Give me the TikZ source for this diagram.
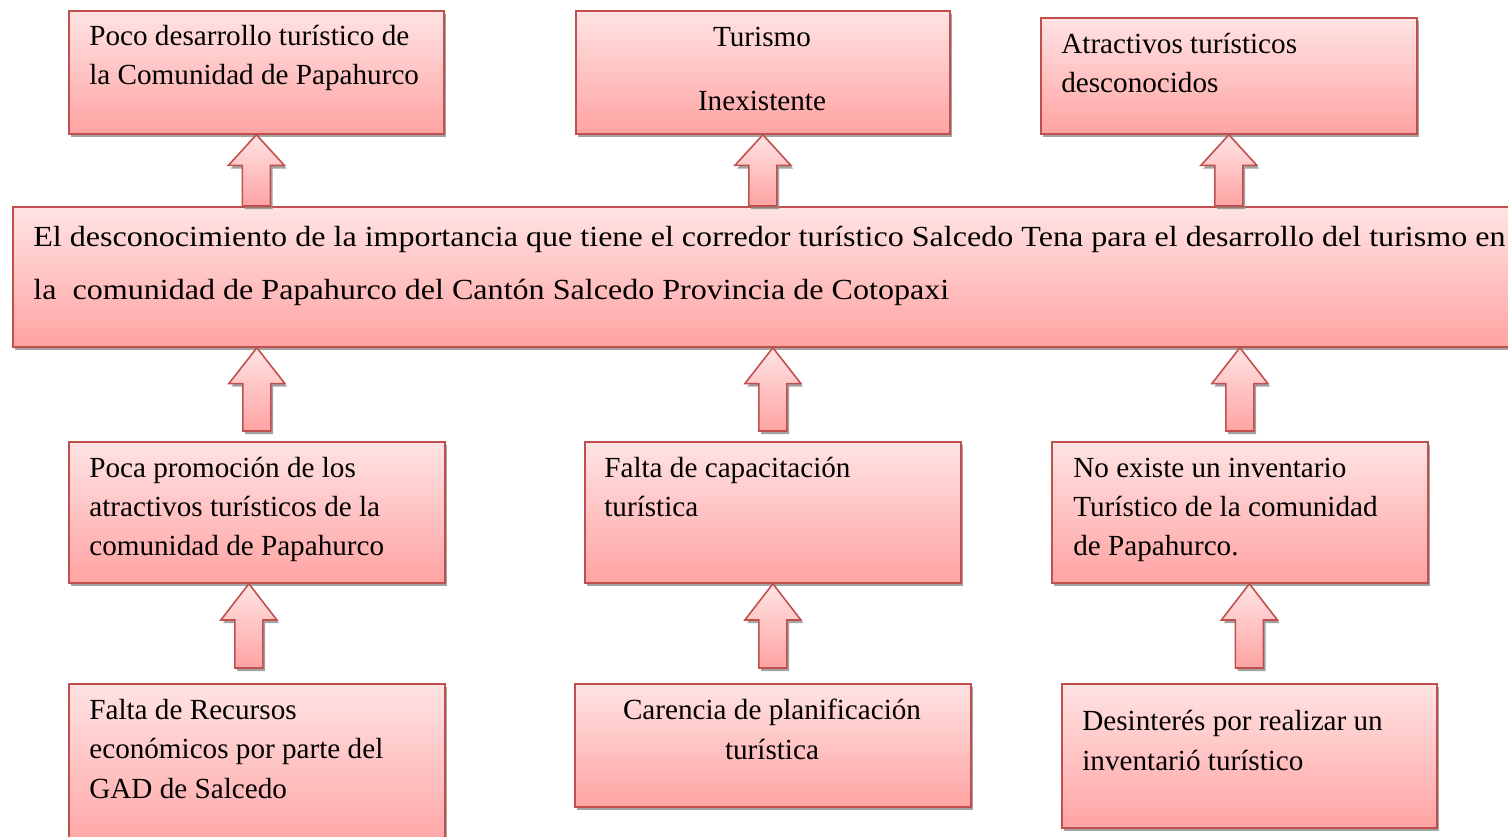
\documentclass[tikz,border=0pt]{standalone}
\usepackage{fontspec}
\setmainfont{Liberation Serif}
\newfontfamily\anchafont[FakeStretch=1.1]{Liberation Serif}
\usetikzlibrary{calc,shadows}

\definecolor{rosaclaro}{HTML}{FFE3E3}
\definecolor{rosaoscuro}{HTML}{FFA3A3}
\definecolor{borde}{HTML}{C0504D}

\tikzset{
  sombra/.style={drop shadow={shadow xshift=1.3pt, shadow yshift=-1.8pt, fill=black!45, opacity=0.8}},
  caja/.style={draw=borde, line width=1pt, rectangle, inner sep=0pt,
    top color=rosaclaro, bottom color=rosaoscuro, sombra},
  texto/.style={inner sep=0pt, align=left, anchor=base west,
    font=\fontsize{16.6}{22.4}\selectfont},
  flechaup/.style={draw=borde, line width=0.9pt, line join=miter,
    top color=rosaclaro, bottom color=rosaoscuro, sombra}
}

% box: name, left, top, right, bottom (in px)
\newcommand{\caja}[5]{\node[caja, anchor=north west,
  minimum width={(#4-#2)*0.02cm}, minimum height={(#5-#3)*0.02cm}] (#1) at (#2,#3) {};}
% block arrow: from (#1) up to the tip (#2)
\newcommand{\flecha}[2]{\path[flechaup] let \p1=(#1), \p2=(#2), \n1={0.43*(\y2-\y1)} in
  (\x1-0.28cm,\y1) -- (\x1-0.28cm,\y2-\n1) -- (\x1-0.56cm,\y2-\n1) -- (\x1,\y2)
  -- (\x1+0.56cm,\y2-\n1) -- (\x1+0.28cm,\y2-\n1) -- (\x1+0.28cm,\y1) -- cycle;}

\begin{document}
\begin{tikzpicture}[x=0.02cm, y=-0.02cm]
\useasboundingbox (0,0) rectangle (1508,837);

% Effects
\caja{t1}{68}{10}{443}{133}
\caja{t2}{575}{10}{949}{133}
\caja{t3}{1040}{17}{1416}{133}

% Problem
\caja{main}{12}{206}{1530}{346}

% Causes
\caja{b1}{68}{441}{444}{582}
\caja{b2}{584}{441}{960}{582}
\caja{b3}{1051}{441}{1427}{582}
\caja{c1}{68}{683}{444}{850}
\caja{c2}{574}{683}{970}{806}
\caja{c3}{1061}{683}{1436}{827}

% Arrows
\flecha{main.north -| t1.south}{t1.south}
\flecha{main.north -| t2.south}{t2.south}
\flecha{main.north -| t3.south}{t3.south}
\flecha{$(b1.north)+(0,-10)$}{main.south -| b1.north}
\flecha{$(b2.north)+(0,-10)$}{main.south -| b2.north}
\flecha{$(b3.north)+(0,-10)$}{main.south -| b3.north}
\flecha{$(c1.north)+(-8,-15)$}{b1.south -| {$(c1.north)+(-8,0)$}}
\flecha{$(c2.north)+(0,-15)$}{b2.south -| c2.north}
\flecha{$(c3.north)+(0,-15)$}{b3.south -| c3.north}

% Texts (anchored at the baseline of the last line)
\node[texto] (lt1) at (89,85) {Poco desarrollo turístico de\\la Comunidad de Papahurco};
\node[texto, align=center, anchor=base, font=\fontsize{16.6}{36.8}\selectfont] (lt2) at (762,111) {Turismo\\Inexistente};
\node[texto] (lt3) at (1061,93) {Atractivos turísticos\\desconocidos};
\node[texto, font=\anchafont\fontsize{16.6}{30.6}\selectfont] (lmain) at (33,300)
  {El desconocimiento de la importancia que tiene el corredor turístico Salcedo Tena para el desarrollo del turismo en\\la~ comunidad de Papahurco del Cantón Salcedo Provincia de Cotopaxi};
\node[texto] (lb1) at (89,556) {Poca promoción de los\\atractivos turísticos de la\\comunidad de Papahurco};
\node[texto] (lb2) at (604,517) {Falta de capacitación\\turística};
\node[texto] (lb3) at (1073,556) {No existe un inventario\\Turístico de la comunidad\\de Papahurco.};
\node[texto] (lc1) at (89,798) {Falta de Recursos\\económicos por parte del\\GAD de Salcedo};
\node[texto, align=center, anchor=base] (lc2) at (772,759) {Carencia de planificación\\turística};
\node[texto] (lc3) at (1082,770) {Desinterés por realizar un\\inventarió turístico};
\end{tikzpicture}
\end{document}
